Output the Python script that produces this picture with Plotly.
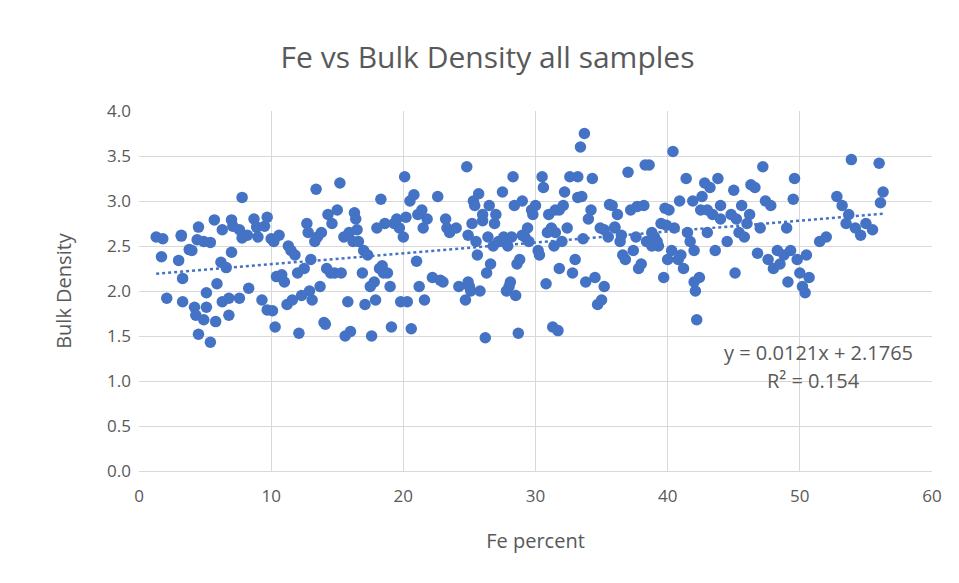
import plotly.graph_objects as go

fe_percent = [
 1.3,1.8,1.7,2.1,3.2,3.3,3.0,3.8,3.3,3.2,4.0,4.2,4.3,4.5,4.4,4.9,4.9,4.5,5.1,5.1,5.4,5.4,5.7,5.8,5.9,6.2,6.3,6.6,6.3,6.8,6.8,7.0,7.0,7.1,7.6,7.6,7.8,7.8,8.3,8.2,8.7,8.9,9.0,9.3,9.5,9.7,9.7,10.0,10.1,10.2,10.3,10.4,10.6,10.8,
 11.0,11.2,11.3,11.5,11.6,11.8,12.0,12.1,12.3,12.5,12.7,12.8,12.9,13.0,13.1,13.3,13.4,13.5,13.7,13.8,14.0,14.1,14.2,14.3,14.5,14.6,14.8,15.0,15.2,15.3,15.5,15.6,15.8,15.9,16.0,16.2,16.3,16.4,16.5,16.6,16.9,17.0,17.1,17.3,17.5,17.6,17.8,17.9,18.0,18.2,18.3,18.4,18.5,18.6,18.8,19.0,19.1,19.3,19.5,19.7,19.8,20.0,20.1,20.2,20.3,20.5,20.6,20.8,
 21.0,21.1,21.2,21.4,21.5,21.6,21.8,22.2,22.6,22.8,23.0,23.2,23.3,23.5,24.0,24.2,24.7,24.8,24.9,25.0,25.1,25.2,25.3,25.4,25.5,25.6,25.7,25.8,26.0,26.2,26.3,26.4,26.5,26.6,26.8,26.9,27.0,27.2,27.5,27.6,27.8,28.0,28.1,28.2,28.3,28.4,28.5,28.6,28.7,28.8,29.0,29.2,29.5,29.7,29.8,30.0,30.2,30.3,30.5,30.6,30.8,
 31.0,31.2,31.3,31.4,31.5,31.7,31.8,32.0,32.1,32.2,32.4,32.6,32.8,33.0,33.2,33.2,33.4,33.5,33.6,33.8,34.0,34.2,34.3,34.5,34.7,34.9,35.0,35.2,35.5,35.6,35.8,36.0,36.2,36.4,36.6,36.8,37.0,37.2,37.4,37.6,37.7,37.8,38.0,38.2,38.3,38.4,38.6,38.8,39.0,39.2,39.5,39.7,39.8,40.0,40.1,40.3,40.4,40.5,40.8,40.9,
 41.0,41.2,41.4,41.5,41.7,41.9,42.0,42.1,42.2,42.4,42.5,42.6,42.8,43.0,43.2,43.4,43.6,43.8,44.0,44.5,44.8,45.0,45.1,45.2,45.4,45.6,45.8,46.0,46.3,46.6,46.8,47.0,47.2,47.4,47.6,47.8,48.0,48.3,48.5,48.8,49.0,49.1,49.3,49.5,49.6,49.8,50.0,50.2,50.4,50.5,50.7,
 51.5,52.0,52.8,53.2,53.5,53.7,53.9,54.2,54.6,55.0,55.5,56.0,56.1,56.3,
 33.7,35.2,36.0,39.9,31.5,31.8,27.3,29.0,26.0,24.9,44.0,46.2,43.0,42.0,38.8,39.3,36.5,27.9,29.4,30.9
]

bulk_density = [
 2.60,2.58,2.38,1.92,2.61,1.88,2.34,2.46,2.14,2.62,2.45,1.82,1.73,2.71,2.57,2.55,1.68,1.52,1.82,1.98,2.54,1.43,2.79,1.66,2.08,2.32,2.68,2.26,1.88,1.73,1.92,2.79,2.43,2.72,1.92,2.68,3.04,2.59,2.03,2.62,2.80,2.71,2.60,1.90,2.72,2.82,1.79,2.58,1.78,2.55,1.60,2.16,2.62,2.18,
 2.10,1.85,2.50,2.45,1.90,2.40,2.20,1.53,1.95,2.25,2.75,2.65,2.00,2.35,1.90,2.55,3.13,2.60,2.05,2.65,1.65,1.63,2.25,2.85,2.20,2.75,2.20,2.90,3.20,2.20,2.60,1.50,1.88,2.65,1.55,2.55,2.87,2.80,2.68,2.55,2.20,2.45,1.85,2.40,2.05,1.50,2.10,1.90,2.70,2.25,3.02,2.28,2.20,2.75,2.20,2.05,1.60,2.75,2.80,2.70,1.88,2.60,3.27,2.82,1.88,3.00,1.58,3.07,
 2.33,2.85,2.05,2.90,2.70,1.90,2.80,2.15,3.05,2.12,2.10,2.80,2.70,2.65,2.70,2.05,1.90,3.38,2.10,2.05,2.00,2.75,3.00,2.95,2.55,2.40,3.08,2.00,2.85,1.48,2.20,2.60,2.95,2.30,2.50,2.75,2.85,2.55,3.10,2.60,2.00,2.05,2.10,2.60,3.27,2.95,1.95,2.30,1.53,2.35,3.00,2.60,2.55,2.90,2.85,2.95,2.45,2.40,3.27,3.15,2.08,
 2.85,2.70,1.60,2.50,2.65,1.56,2.25,2.55,2.95,3.10,2.70,3.27,2.20,2.35,3.27,3.04,3.60,3.05,2.58,2.10,2.80,2.90,3.25,2.15,1.85,2.70,1.90,2.05,2.60,2.96,2.95,2.70,2.85,2.55,2.40,2.35,3.32,2.90,2.45,2.60,2.94,2.25,2.30,2.95,3.40,2.55,3.40,2.65,2.60,2.55,2.75,2.15,2.92,2.35,2.90,2.45,3.55,2.70,2.35,3.00,
 2.40,2.25,3.25,2.65,2.55,3.00,2.10,2.00,1.68,2.15,2.90,3.05,3.20,2.65,3.15,2.85,2.45,3.25,2.95,2.55,2.85,3.12,2.20,2.80,2.65,2.95,2.60,2.75,3.18,3.15,2.42,2.70,3.38,3.00,2.35,2.95,2.25,2.45,2.30,2.40,2.70,2.10,2.45,3.02,3.25,2.35,2.20,2.05,1.98,2.40,2.15,
 2.55,2.60,3.05,2.95,2.75,2.85,3.46,2.70,2.62,2.75,2.68,3.42,2.98,3.10,
 3.75,2.68,2.71,2.73,2.90,2.90,2.55,2.62,2.78,2.62,2.80,2.85,2.90,2.45,2.50,2.50,2.62,2.50,2.70,2.65
]

slope = 0.0121
intercept = 2.1765
r_squared = 0.154

x_min, x_max = min(fe_percent), max(fe_percent)
trend_x = [x_min, x_max]
trend_y = [slope * v + intercept for v in trend_x]

grey = "#595959"
fig = go.Figure()
fig.add_trace(go.Scatter(
    x=fe_percent, y=bulk_density, mode="markers",
    marker=dict(color="#4472C4", size=11.5, line=dict(width=0)),
    showlegend=False, hoverinfo="x+y"))
fig.add_trace(go.Scatter(
    x=trend_x, y=trend_y, mode="lines",
    line=dict(color="#4472C4", width=2.5, dash="dot"),
    showlegend=False, hoverinfo="skip"))

fig.update_layout(
    width=959, height=583,
    paper_bgcolor="white", plot_bgcolor="white",
    margin=dict(l=131, r=35, t=103, b=120),
    font=dict(family="Open Sans, Liberation Sans, sans-serif", color=grey),
    title=dict(text="Fe vs Bulk Density all samples", x=0.5, xanchor="center",
               y=0.915, yanchor="middle",
               font=dict(size=30, color=grey, family="Open Sans, sans-serif")),
    xaxis=dict(range=[0, 60], dtick=10, tick0=0, showgrid=True, gridcolor="#d9d9d9",
               gridwidth=1, zeroline=False, showline=True, linecolor="#d9d9d9",
               ticks="", ticklabelstandoff=10, tickfont=dict(size=17, color=grey),
               title=dict(text="Fe percent", font=dict(size=20, color=grey), standoff=27)),
    yaxis=dict(range=[0, 4], dtick=0.5, tick0=0, tickformat=".1f", showgrid=True,
               gridcolor="#d9d9d9", gridwidth=1, zeroline=False, showline=False,
               ticks="", ticklabelstandoff=7, tickfont=dict(size=17, color=grey),
               title=dict(text="Bulk Density", font=dict(size=20, color=grey), standoff=30)),
    annotations=[
        dict(x=58.7, y=1.32, xref="x", yref="y", xanchor="right", yanchor="middle",
             text=f"y = {slope}x + {intercept}", showarrow=False,
             font=dict(size=20, color=grey)),
        dict(x=54.7, y=1.01, xref="x", yref="y", xanchor="right", yanchor="middle",
             text=f"R² = {r_squared}", showarrow=False,
             font=dict(size=20, color=grey)),
    ],
)

fig.write_html("out.html")
